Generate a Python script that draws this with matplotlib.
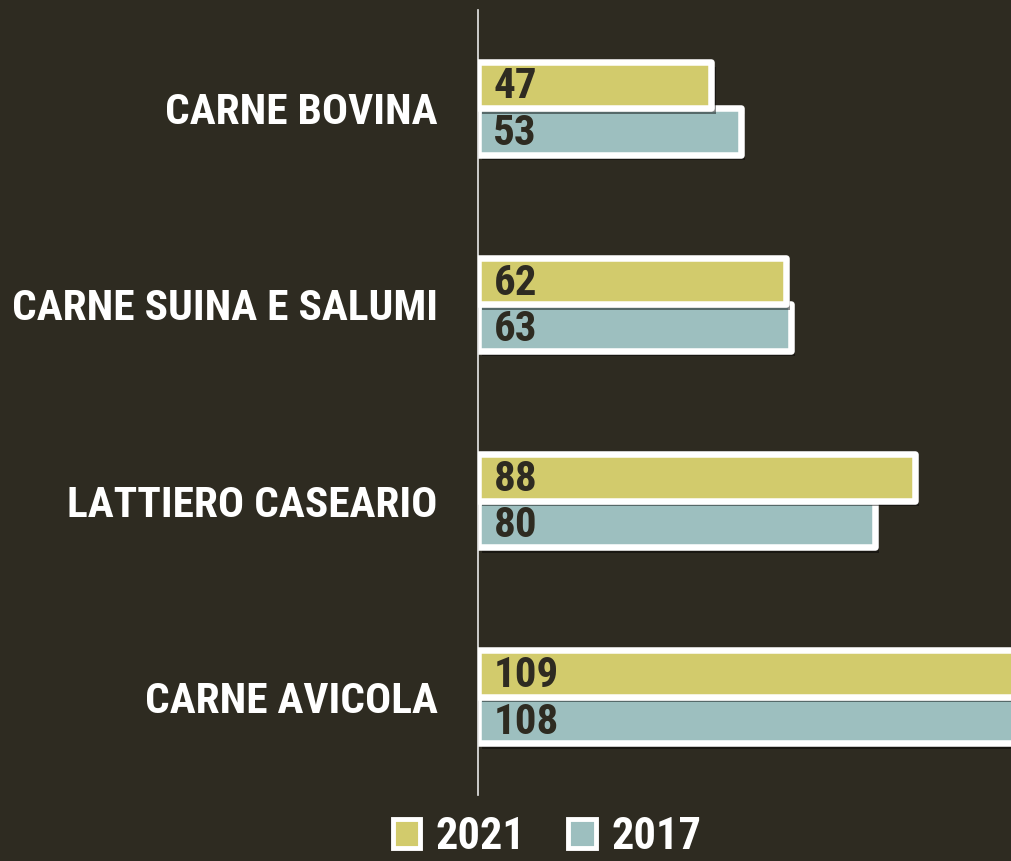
import matplotlib
matplotlib.use("Agg")
import matplotlib.pyplot as plt
import matplotlib.patheffects as pe
import numpy as np

categories = ["CARNE BOVINA", "CARNE SUINA E SALUMI", "LATTIERO CASEARIO", "CARNE AVICOLA"]
values_2021 = [47, 62, 88, 109]
values_2017 = [53, 63, 80, 108]
series_names = ["2021", "2017"]

bg = "#2e2b21"
yellow = "#d2cb6c"
teal = "#9dbfbf"

plt.rcParams["font.family"] = ["Roboto Condensed", "Archivo Narrow", "DejaVu Sans"]
plt.rcParams["font.weight"] = "bold"

fig = plt.figure(figsize=(10.12, 8.61), dpi=100, facecolor=bg)
ax = fig.add_axes([478 / 1012, 1 - 795 / 861, 1 - 478 / 1012, (795 - 10) / 861])
ax.set_facecolor(bg)

y = np.arange(len(categories))
h = 0.237
shadow = [pe.SimplePatchShadow(offset=(3, -4), shadow_rgbFace="black", alpha=0.45), pe.Normal()]

# draw 2017 first so the 2021 bar sits on top of its shadow
b2 = ax.barh(y + h / 2, values_2017, height=h, color=teal, edgecolor="white", linewidth=4.7,
             path_effects=shadow, zorder=2)
b1 = ax.barh(y - h / 2, values_2021, height=h, color=yellow, edgecolor="white", linewidth=4.7,
             path_effects=shadow, zorder=3)
for bar in list(b1) + list(b2):
    bar.set_joinstyle("round")

for bars, vals in ((b1, values_2021), (b2, values_2017)):
    for bar, v in zip(bars, vals):
        ax.text(3.1, bar.get_y() + bar.get_height() / 2 + 0.01, str(v), ha="left", va="center",
                fontsize=31, fontweight="bold", color=bg, zorder=5)

ax.set_xlim(0, 107.55)
ax.set_ylim(len(categories) - 0.5, -0.5)
ax.set_yticks(y)
ax.set_yticklabels(categories, fontsize=31.2, fontweight="bold", color="white")
ax.tick_params(axis="y", length=0, pad=29)
ax.set_xticks([])
for s in ["top", "right", "bottom"]:
    ax.spines[s].set_visible(False)
ax.spines["left"].set_color("#e8e8e8")
ax.spines["left"].set_linewidth(1.2)

# legend
handles = [plt.Rectangle((0, 0), 1, 1, facecolor=yellow, edgecolor="white", linewidth=3.5),
           plt.Rectangle((0, 0), 1, 1, facecolor=teal, edgecolor="white", linewidth=3.5)]
leg = fig.legend(handles, series_names, loc="center", bbox_to_anchor=(547 / 1012, 1 - 837 / 861), ncol=2,
                 frameon=False, fontsize=32, handlelength=0.62, handleheight=0.62,
                 handletextpad=0.35, columnspacing=0.95, borderpad=0, borderaxespad=0)
for t in leg.get_texts():
    t.set_color("white")
    t.set_fontweight("bold")

fig.savefig("out.png", dpi=100, facecolor=bg)
